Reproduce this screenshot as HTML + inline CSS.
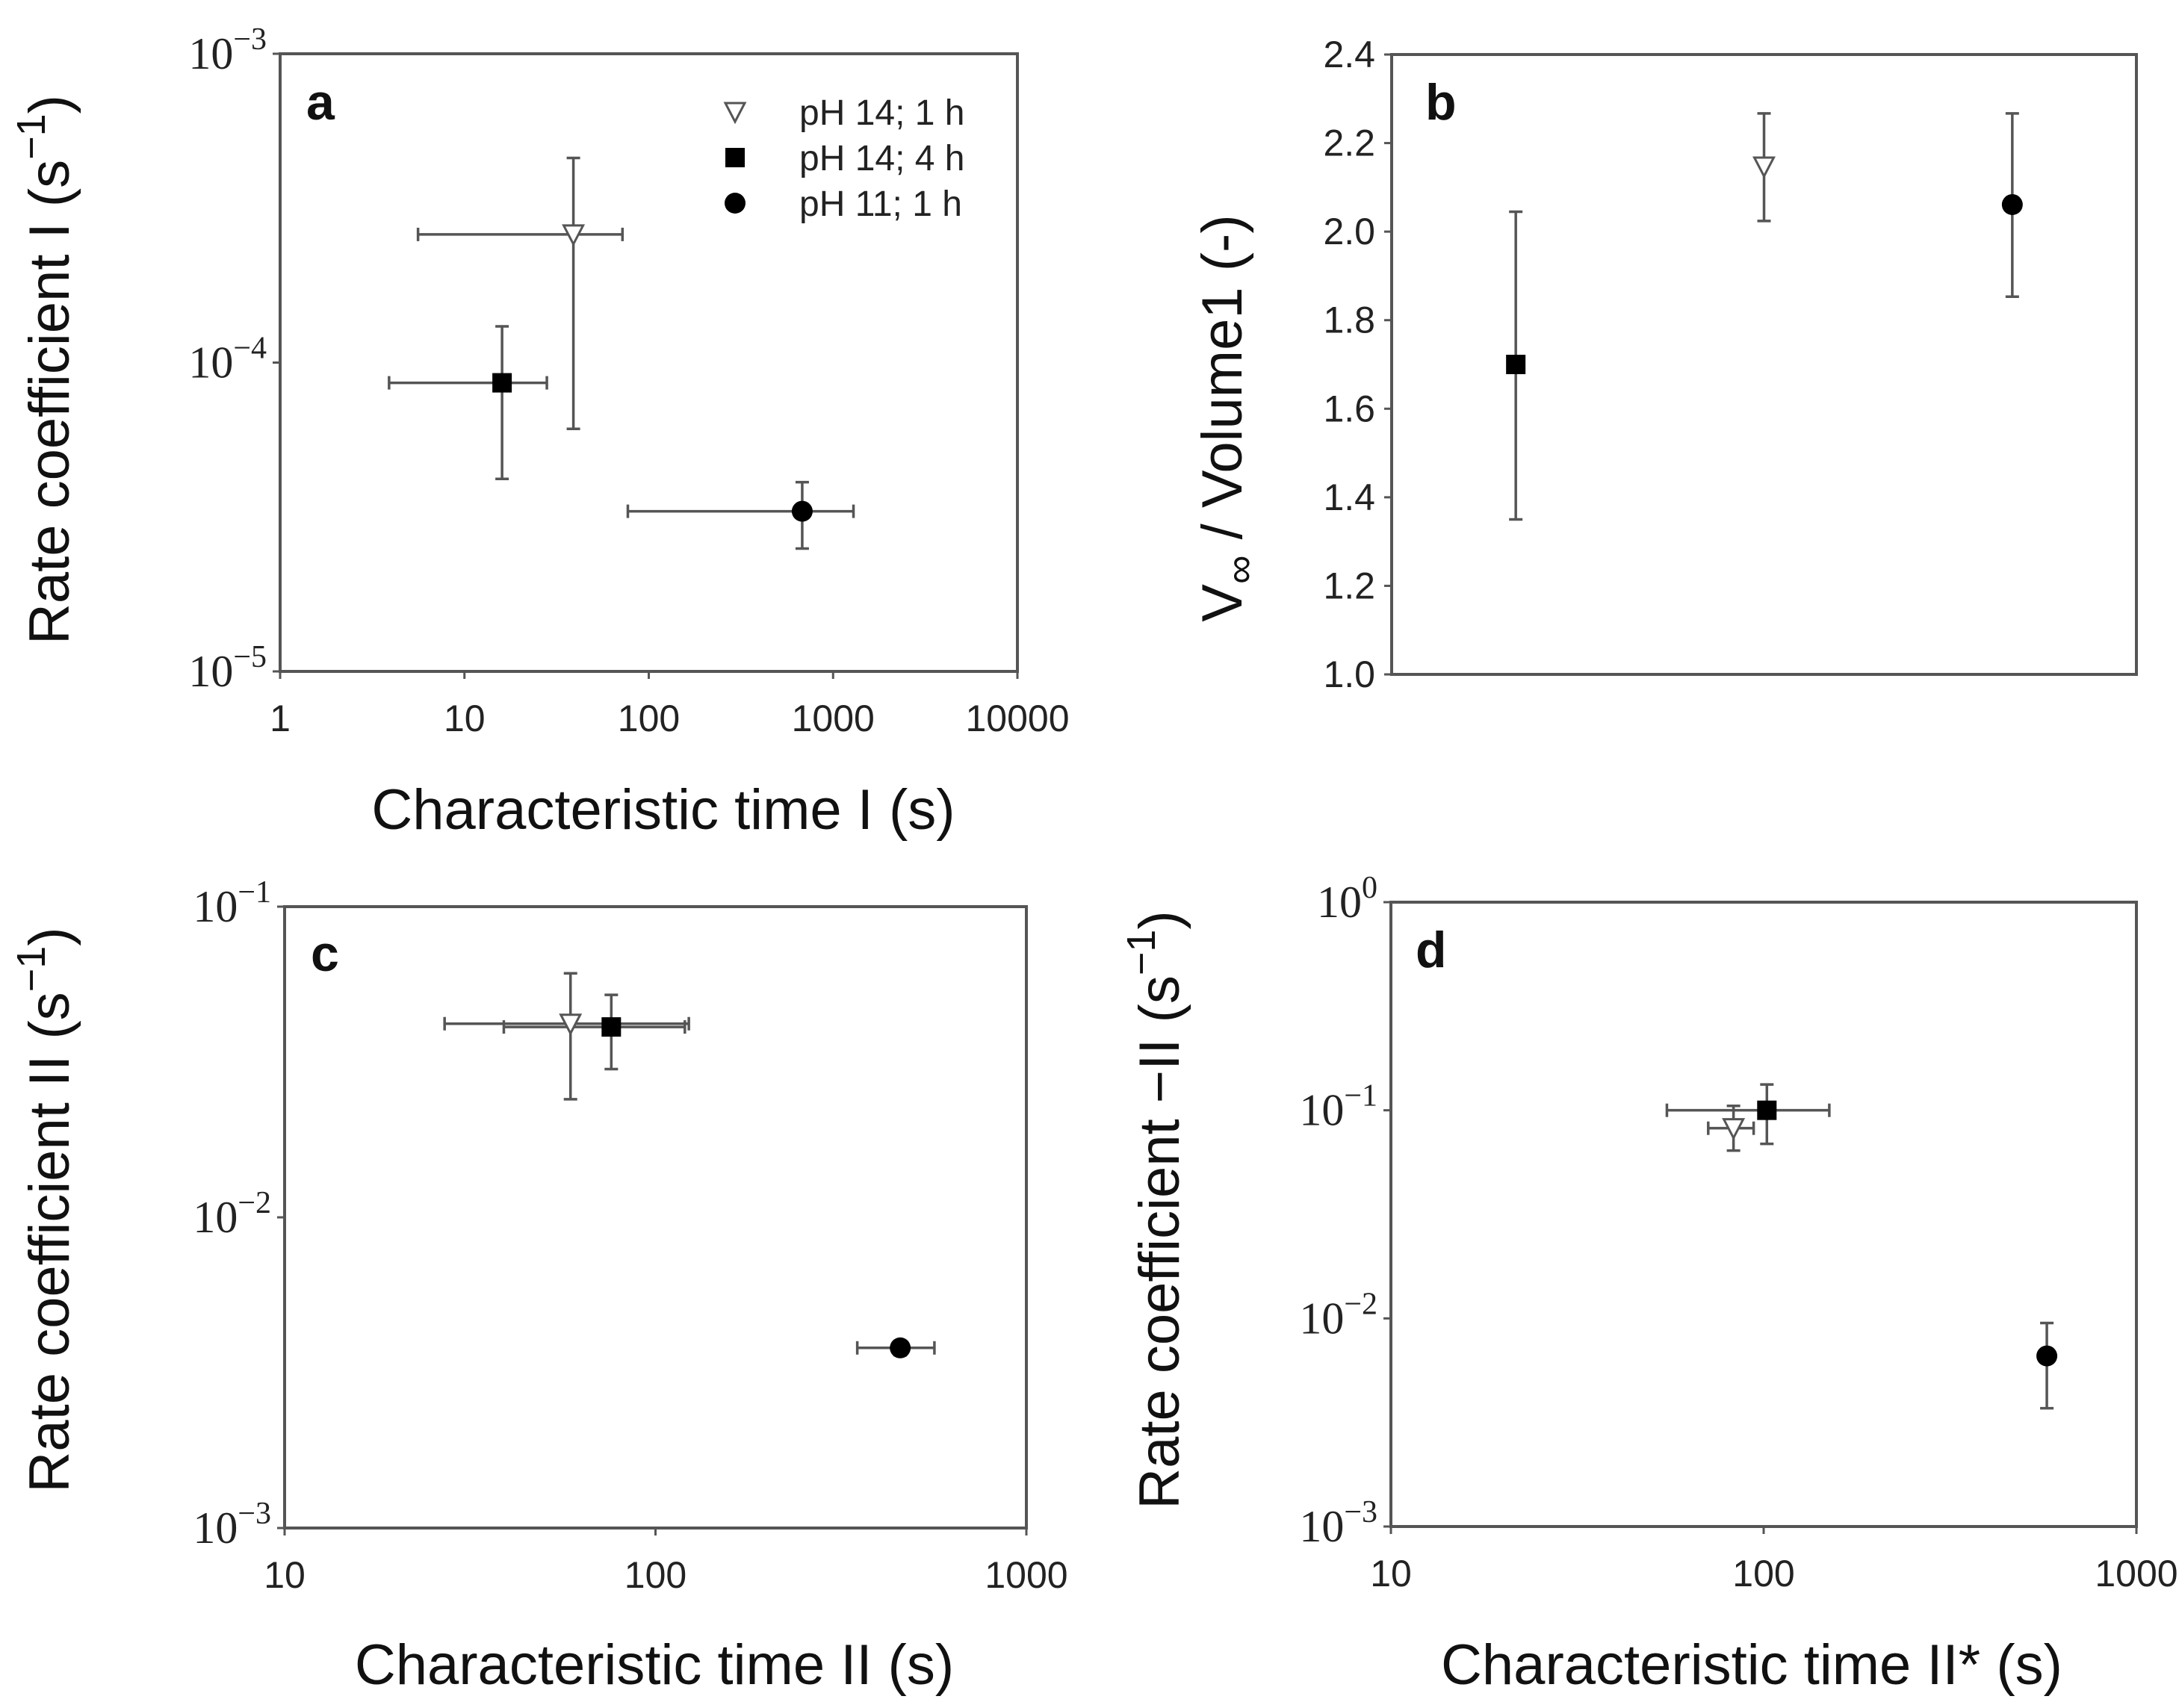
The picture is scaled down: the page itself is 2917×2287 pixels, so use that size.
<!DOCTYPE html>
<html><head><meta charset="utf-8"><style>
html,body{margin:0;padding:0;background:#fff}
svg{display:block;font-family:"Liberation Sans",Arial,sans-serif}
</style></head><body>
<svg id="fig" width="2917" height="2287" viewBox="0 0 2917 2287" xmlns="http://www.w3.org/2000/svg"></svg>
<script>
// ---- Panel a data ----
const aX = [39, 16, 680];
const aXlo = [5.6, 3.9, 77];
const aXhi = [72, 28, 1290];
const aY = [2.6e-4, 8.6e-5, 3.3e-5];
const aYlo = [6.1e-5, 4.2e-5, 2.5e-5];
const aYhi = [4.6e-4, 1.31e-4, 4.1e-5];
const aXticks = [1, 10, 100, 1000, 10000];
const aYexp = [-5, -4, -3];
// ---- Panel b data ----
const bCats = ["pH 14; 4 h", "pH 14; 1 h", "pH 11; 1 h"];
const bY = [1.70, 2.147, 2.061];
const bYlo = [1.35, 2.024, 1.853];
const bYhi = [2.045, 2.267, 2.267];
const bYticks = ["1.0","1.2","1.4","1.6","1.8","2.0","2.2","2.4"];
// ---- Panel c data ----
const cX = [59, 76, 457];
const cXlo = [27, 39, 350];
const cXhi = [123, 120, 565];
const cY = [0.042, 0.041, 0.0038];
const cYlo = [0.024, 0.030, 0.0036];
const cYhi = [0.061, 0.052, 0.0040];
const cXticks = [10, 100, 1000];
const cYexp = [-3, -2, -1];
// ---- Panel d data ----
const dX = [83, 102, 575];
const dXlo = [71, 55, 575];
const dXhi = [94, 150, 575];
const dY = [0.082, 0.100, 0.0066];
const dYlo = [0.064, 0.069, 0.0037];
const dYhi = [0.105, 0.133, 0.0095];
const dXticks = [10, 100, 1000];
const dYexp = [-3, -2, -1, 0];

const markers = ["tri", "sq", "circ"];
const NS = "http://www.w3.org/2000/svg";
const svg = document.getElementById("fig");
const GRAY = "#555";
function el(tag, attrs, parent) {
  const e = document.createElementNS(NS, tag);
  for (const k in attrs) e.setAttribute(k, attrs[k]);
  (parent || svg).appendChild(e);
  return e;
}
function logScale(d0, d1, r0, r1) {
  const l0 = Math.log10(d0), l1 = Math.log10(d1);
  return v => r0 + (Math.log10(v) - l0) / (l1 - l0) * (r1 - r0);
}
function linScale(d0, d1, r0, r1) { return v => r0 + (v - d0) / (d1 - d0) * (r1 - r0); }

function drawMarker(g, kind, x, y) {
  let m;
  if (kind === "sq") m = el("rect", {x: x - 13, y: y - 13, width: 26, height: 26, fill: "#000"}, g);
  else if (kind === "circ") m = el("circle", {cx: x, cy: y, r: 14, fill: "#000"}, g);
  else m = el("polygon", {points: `${x-13},${y-12} ${x+13},${y-12} ${x},${y+13}`, fill: "#fff", stroke: GRAY, "stroke-width": 3}, g);
  
  
}
function errBars(g, sx, sy, xs, ys, xlo, xhi, ylo, yhi) {
  for (let i = 0; i < xs.length; i++) {
    const x = sx(xs[i]), y = sy(ys[i]);
    const eg = el("g", {stroke: GRAY, "stroke-width": 3.5, fill: "none"}, g);
    
    
    if (xlo) {
      const a = sx(xlo[i]), b = sx(xhi[i]);
      if (Math.abs(b - a) > 2) {
        el("line", {x1: a, y1: y, x2: b, y2: y}, eg);
        el("line", {x1: a, y1: y - 9, x2: a, y2: y + 9}, eg);
        el("line", {x1: b, y1: y - 9, x2: b, y2: y + 9}, eg);
      }
    }
    const a = sy(ylo[i]), b = sy(yhi[i]);
    if (Math.abs(b - a) > 2) {
      el("line", {x1: x, y1: a, x2: x, y2: b}, eg);
      el("line", {x1: x - 9, y1: a, x2: x + 9, y2: a}, eg);
      el("line", {x1: x - 9, y1: b, x2: x + 9, y2: b}, eg);
    }
  }
  for (let i = 0; i < xs.length; i++) drawMarker(g, markers[i], sx(xs[i]), sy(ys[i]));
}
function frame(g, L, T, R, B) {
  const r = el("rect", {x: L, y: T, width: R - L, height: B - T, fill: "none", stroke: GRAY, "stroke-width": 4}, g);
  
  
}
function powLabel(g, x, y, exp) {
  const t = el("text", {x: x, y: y, "text-anchor": "end", "font-size": 60, fill: "#222", "font-family": "Liberation Serif, serif"}, g);
  const b = el("tspan", {}, t); b.textContent = "10";
  const s = el("tspan", {dy: -26, "font-size": 42}, t); s.textContent = exp === 0 ? "0" : "\u2212" + Math.abs(exp);
  
  
}
function logYAxis(g, sy, L, exps) {
  exps.forEach(e => {
    const y = sy(Math.pow(10, e));
    el("line", {x1: L - 10, y1: y, x2: L, y2: y, stroke: GRAY, "stroke-width": 3}, g);
    powLabel(g, L - 18, y + 20, e);
  });
}
function logXAxis(g, sx, B, ticks) {
  ticks.forEach(v => {
    const x = sx(v);
    el("line", {x1: x, y1: B, x2: x, y2: B + 10, stroke: GRAY, "stroke-width": 3}, g);
    const t = el("text", {x: x, y: B + 80, "text-anchor": "middle", "font-size": 50, fill: "#222"}, g);
    t.textContent = v;
    
    
  });
}
function title(g, txt, x, y, rot, name) {
  const t = el("text", {x: x, y: y, "text-anchor": "middle", "font-size": 76, fill: "#111",
    transform: rot ? `rotate(-90 ${x} ${y})` : ""}, g);
  t.innerHTML = txt;
  
  
  return t;
}
function letter(g, ch, x, y) {
  const t = el("text", {x: x, y: y, "font-size": 68, "font-weight": "bold", fill: "#111"}, g);
  t.textContent = ch;
  
  
}
const SUP = ' (s<tspan dy="-32" font-size="54">\u22121</tspan><tspan dy="32">)</tspan>';

// ---- Panel a ----
(function () {
  const L = 375, T = 72, R = 1362, B = 899;
  const g = el("g", {});  
  const sx = logScale(1, 10000, L, R), sy = logScale(1e-5, 1e-3, B, T);
  frame(g, L, T, R, B);
  logYAxis(g, sy, L, aYexp);
  logXAxis(g, sx, B, aXticks);
  errBars(g, sx, sy, aX, aY, aXlo, aXhi, aYlo, aYhi);
  letter(g, "a", 410, 160);
  const lg = el("g", {}, g);  
  const labels = ["pH 14; 1 h", "pH 14; 4 h", "pH 11; 1 h"];
  labels.forEach((s, i) => {
    const y = 150 + i * 61;
    drawMarker(lg, markers[i], 984, y);
    const t = el("text", {x: 1070, y: y + 17, "font-size": 48, fill: "#222"}, lg);
    t.textContent = s;
    
    
  });
  title(g, "Characteristic time I (s)", 888, 1110, false, "x-axis-title");
  title(g, 'Rate coefficient I' + SUP, 92, 495, true, "y-axis-title");
})();

// ---- Panel b ----
(function () {
  const L = 1863, T = 73, R = 2860, B = 903;
  const g = el("g", {});  
  const sy = linScale(1.0, 2.4, B, T);
  const sx = i => L + (R - L) * (2 * i + 1) / 6;
  frame(g, L, T, R, B);
  bYticks.forEach(s => {
    const y = sy(parseFloat(s));
    el("line", {x1: L - 10, y1: y, x2: L, y2: y, stroke: GRAY, "stroke-width": 3}, g);
    const t = el("text", {x: L - 22, y: y + 17, "text-anchor": "end", "font-size": 50, fill: "#222"}, g);
    t.textContent = s;
    
    
  });
  const idx = bCats.map((c, i) => i);
  const mk = ["sq", "tri", "circ"];
  idx.forEach(i => {
    const x = sx(i), eg = el("g", {stroke: GRAY, "stroke-width": 3.5}, g);
    
    
    el("line", {x1: x, y1: sy(bYlo[i]), x2: x, y2: sy(bYhi[i])}, eg);
    el("line", {x1: x - 9, y1: sy(bYlo[i]), x2: x + 9, y2: sy(bYlo[i])}, eg);
    el("line", {x1: x - 9, y1: sy(bYhi[i]), x2: x + 9, y2: sy(bYhi[i])}, eg);
  });
  idx.forEach(i => drawMarker(g, mk[i], sx(i), sy(bY[i])));
  letter(g, "b", 1908, 160);
  title(g, 'V<tspan dy="16" font-size="54">\u221e</tspan><tspan dy="-16"> / Volume1 (-)</tspan>', 1662, 560, true, "y-axis-title");
})();

// ---- Panel c ----
(function () {
  const L = 381, T = 1214, R = 1374, B = 2046;
  const g = el("g", {});  
  const sx = logScale(10, 1000, L, R), sy = logScale(1e-3, 1e-1, B, T);
  frame(g, L, T, R, B);
  logYAxis(g, sy, L, cYexp);
  logXAxis(g, sx, B, cXticks);
  errBars(g, sx, sy, cX, cY, cXlo, cXhi, cYlo, cYhi);
  letter(g, "c", 416, 1300);
  title(g, "Characteristic time II (s)", 876, 2255, false, "x-axis-title");
  title(g, 'Rate coefficient II' + SUP, 92, 1620, true, "y-axis-title");
})();

// ---- Panel d ----
(function () {
  const L = 1862, T = 1208, R = 2860, B = 2044;
  const g = el("g", {});  
  const sx = logScale(10, 1000, L, R), sy = logScale(1e-3, 1, B, T);
  frame(g, L, T, R, B);
  logYAxis(g, sy, L, dYexp);
  logXAxis(g, sx, B, dXticks);
  errBars(g, sx, sy, dX, dY, dXlo, dXhi, dYlo, dYhi);
  letter(g, "d", 1895, 1295);
  title(g, "Characteristic time II* (s)", 2345, 2255, false, "x-axis-title");
  title(g, 'Rate coefficient \u2212II' + SUP, 1578, 1620, true, "y-axis-title");
})();
</script>
</body></html>
